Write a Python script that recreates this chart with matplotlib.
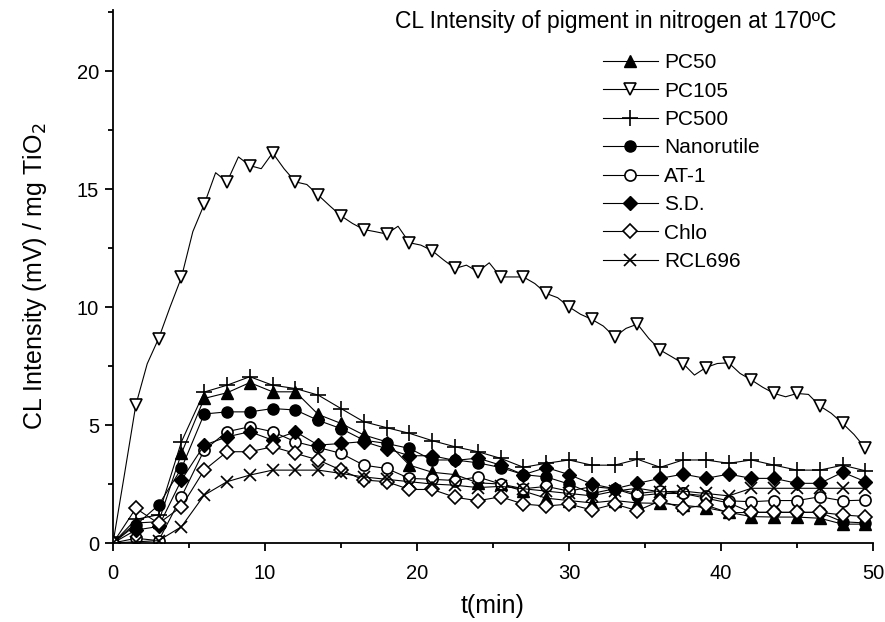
import matplotlib
matplotlib.use("Agg")
import matplotlib.pyplot as plt
from matplotlib.ticker import MultipleLocator

plt.rcParams['font.family'] = ['Liberation Sans', 'DejaVu Sans']

t = [0, 1.5, 3, 4.5, 6, 7.5, 9, 10.5, 12, 13.5, 15, 16.5, 18, 19.5, 21, 22.5, 24,
     25.5, 27, 28.5, 30, 31.5, 33, 34.5, 36, 37.5, 39, 40.5, 42, 43.5, 45, 46.5, 48, 49.5]

# PC105 has extra points between the markers (every 0.75 min)
t_fine = [0, 0.75, 1.5, 2.25, 3, 3.75, 4.5, 5.25, 6, 6.75, 7.5, 8.25, 9, 9.75, 10.5, 11.25,
          12, 12.75, 13.5, 14.25, 15, 15.75, 16.5, 17.25, 18, 18.75, 19.5, 20.25, 21, 21.75,
          22.5, 23.25, 24, 24.75, 25.5, 26.25, 27, 27.75, 28.5, 29.25, 30, 30.75, 31.5, 32.25,
          33, 33.75, 34.5, 35.25, 36, 36.75, 37.5, 38.25, 39, 39.75, 40.5, 41.25, 42, 42.75,
          43.5, 44.25, 45, 45.75, 46.5, 47.25, 48, 48.75, 49.5]
pc105 = [0, 2.9, 5.85, 7.6, 8.67, 10.0, 11.26, 13.2, 14.36, 15.7, 15.31, 16.37, 16.0, 15.87,
         16.54, 15.87, 15.31, 15.2, 14.75, 14.3, 13.87, 13.55, 13.29, 13.2, 13.1, 13.43, 12.73,
         12.63, 12.39, 12.0, 11.64, 11.78, 11.5, 11.88, 11.28, 11.28, 11.28, 11.0, 10.58, 10.4,
         10.01, 9.7, 9.48, 9.2, 8.74, 9.1, 9.28, 8.67, 8.18, 7.9, 7.61, 7.12, 7.44, 7.61, 7.64,
         7.19, 6.91, 6.6, 6.34, 6.2, 6.34, 6.3, 5.81, 5.5, 5.07, 4.6, 4.01]

pc50 = [0, 0.85, 0.9, 3.8, 6.13, 6.37, 6.8, 6.41, 6.41, 5.45, 5.07, 4.58, 4.29, 3.3, 3.0,
        2.9, 2.55, 2.5, 2.2, 1.9, 1.8, 1.7, 1.8, 1.7, 1.68, 1.6, 1.5, 1.3, 1.12, 1.1, 1.1,
        1.05, 0.8, 0.8]
pc500 = [0, 1.0, 1.2, 4.29, 6.4, 6.69, 7.05, 6.69, 6.55, 6.27, 5.7, 5.14, 4.89, 4.65, 4.34,
         4.08, 3.87, 3.59, 3.21, 3.38, 3.52, 3.3, 3.3, 3.55, 3.21, 3.52, 3.52, 3.38, 3.52, 3.3,
         3.09, 3.09, 3.3, 3.06]
nanorutile = [0, 0.76, 1.61, 3.16, 5.47, 5.56, 5.56, 5.7, 5.64, 5.2, 4.85, 4.36, 4.22, 4.01,
              3.52, 3.52, 3.4, 3.2, 2.9, 2.8, 2.5, 2.1, 2.3, 2.0, 2.1, 2.1, 1.9, 1.7, 1.3, 1.3,
              1.3, 1.3, 0.9, 0.85]
at1 = [0, 0.2, 0.1, 1.96, 3.94, 4.72, 4.93, 4.72, 4.29, 4.05, 3.8, 3.3, 3.16, 2.74, 2.7,
       2.65, 2.8, 2.5, 2.3, 2.4, 2.2, 2.39, 2.3, 2.1, 2.2, 2.1, 2.0, 1.79, 1.75, 1.8, 1.8,
       1.96, 1.79, 1.82]
sd = [0, 0.55, 0.7, 2.67, 4.15, 4.5, 4.72, 4.36, 4.72, 4.15, 4.22, 4.3, 4.0, 3.7, 3.7, 3.5,
      3.6, 3.3, 2.9, 3.2, 2.9, 2.5, 2.3, 2.53, 2.74, 2.92, 2.74, 2.92, 2.74, 2.74, 2.53, 2.53,
      3.0, 2.6]
chlo = [0, 1.47, 0.83, 1.54, 3.09, 3.87, 3.87, 4.08, 3.8, 3.52, 3.09, 2.67, 2.6, 2.27, 2.27,
        1.94, 1.79, 1.96, 1.65, 1.57, 1.65, 1.4, 1.65, 1.37, 1.79, 1.47, 1.61, 1.28, 1.3, 1.3,
        1.3, 1.3, 1.19, 1.12]
rcl696 = [0, 0.05, 0.1, 0.69, 2.03, 2.6, 2.88, 3.09, 3.09, 3.09, 2.95, 2.8, 2.7, 2.6, 2.5,
          2.45, 2.35, 2.4, 2.3, 2.2, 2.1, 2.0, 2.2, 2.32, 2.17, 2.2, 2.1, 2.0, 2.32, 2.32, 2.32,
          2.32, 2.32, 2.32]

fig = plt.figure(figsize=(8.85, 6.22), dpi=100)
ax = fig.add_axes([0.1277, 0.127, 0.8588, 0.857])

lw = 0.8
ms = 8
ax.plot(t, pc50, color='k', lw=lw, marker='^', ms=ms, mfc='k', mec='k', label='PC50')
ax.plot(t_fine, pc105, color='k', lw=lw, marker='v', ms=ms + 1, mfc='white', mec='k',
        mew=1.2, markevery=2, label='PC105')
ax.plot(t, pc500, color='k', lw=lw, marker='+', ms=ms + 3, mew=1.2, label='PC500')
ax.plot(t, nanorutile, color='k', lw=lw, marker='o', ms=ms, mfc='k', mec='k', label='Nanorutile')
ax.plot(t, at1, color='k', lw=lw, marker='o', ms=ms, mfc='white', mec='k', mew=1.2, label='AT-1')
ax.plot(t, sd, color='k', lw=lw, marker='D', ms=ms - 1, mfc='k', mec='k', label='S.D.')
ax.plot(t, chlo, color='k', lw=lw, marker='D', ms=ms - 1, mfc='white', mec='k', mew=1.2,
        label='Chlo')
ax.plot(t, rcl696, color='k', lw=lw, marker='x', ms=ms + 1, mew=1.2, label='RCL696')

ax.set_xlim(0, 50)
ax.xaxis.set_major_locator(MultipleLocator(10))
ax.xaxis.set_minor_locator(MultipleLocator(5))
ax.set_yticks([0, 5, 10, 15, 20])
ax.yaxis.set_minor_locator(MultipleLocator(2.5))
ax.set_ylim(0, 22.6)
ax.spines['top'].set_visible(False)
ax.spines['right'].set_visible(False)
for s in ('left', 'bottom'):
    ax.spines[s].set_linewidth(1.3)
ax.tick_params(which='major', direction='out', length=6, width=1.3, labelsize=14.5)
ax.tick_params(which='minor', direction='out', length=3.5, width=1.3)
ax.tick_params(axis='x', which='major', pad=9)
ax.tick_params(axis='y', which='major', pad=4)

ax.set_xlabel('t(min)', fontsize=18, labelpad=8)
ax.set_ylabel('CL Intensity (mV) / mg TiO$_2$', fontsize=18, labelpad=20)

fig.text(0.446, 0.965, 'CL Intensity of pigment in nitrogen at 170ºC', fontsize=16.5,
         ha='left', va='center')
fig.legend(loc='upper left', bbox_to_anchor=(0.670, 0.931), frameon=False, fontsize=15,
           handlelength=2.6, handletextpad=0.3, labelspacing=0.45, borderpad=0)

fig.savefig('out.png', dpi=100)
